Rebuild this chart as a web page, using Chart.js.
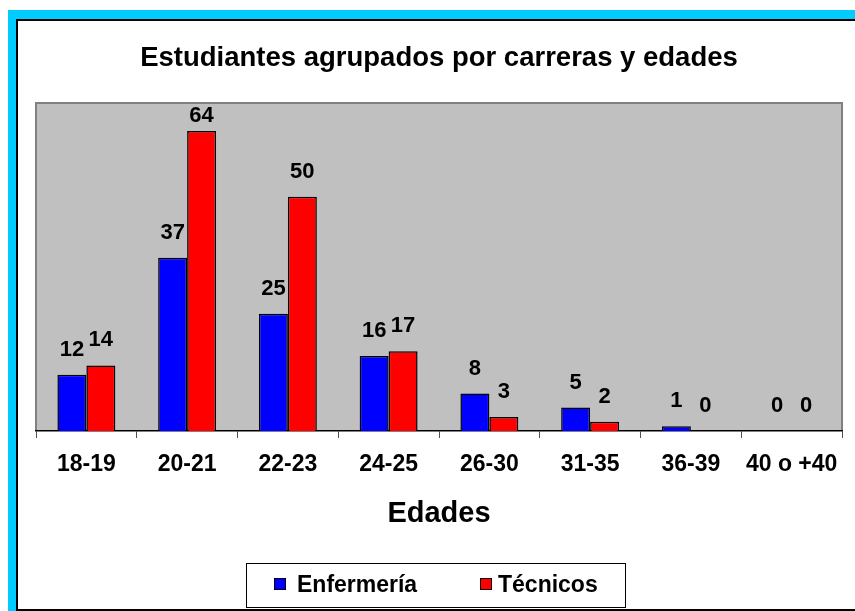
<!DOCTYPE html>
<html>
<head>
<meta charset="utf-8">
<script src="https://cdn.jsdelivr.net/npm/chart.js@4/dist/chart.umd.min.js"></script>
<style>
html,body{margin:0;padding:0;background:#fff;width:855px;height:611px;overflow:hidden;}
#cyan{position:absolute;left:8px;top:10px;width:847px;height:601px;background:#00CCFF;}
#frame{position:absolute;left:16px;top:19px;width:839px;height:592px;background:#fff;border-left:2px solid #000;border-top:2px solid #000;border-bottom:2px solid #000;box-sizing:border-box;}
#wrap{position:absolute;left:18px;top:21px;width:837px;height:588px;}
canvas{display:block;}
</style>
</head>
<body>
<div id="cyan"></div>
<div id="frame"></div>
<div id="wrap"><canvas id="c" width="837" height="588"></canvas></div>
<script>
// ---- data ----
const categories = ['18-19', '20-21', '22-23', '24-25', '26-30', '31-35', '36-39', '40 o +40'];
const enfermeria = [12, 37, 25, 16, 8, 5, 1, 0];
const tecnicos = [14, 64, 50, 17, 3, 2, 0, 0];
const seriesNames = ['Enfermería', 'Técnicos'];
const chartTitle = 'Estudiantes agrupados por carreras y edades';
const axisTitle = 'Edades';
const yMin = 0;
const yMax = 70;

// ---- styles ----
const FONT = "'Liberation Sans', Arial, Helvetica, sans-serif";
const COLORS = ['#0000FF', '#FF0000'];
const PLOT_BG = '#C0C0C0';
const PLOT_BORDER = '#808080';

const plotBackground = {
  id: 'plotBackground',
  beforeDraw(chart) {
    const {ctx, chartArea: a} = chart;
    ctx.save();
    ctx.fillStyle = PLOT_BG;
    ctx.fillRect(a.left, a.top, a.right - a.left, a.bottom - a.top);
    ctx.strokeStyle = PLOT_BORDER;
    ctx.lineWidth = 2;
    ctx.beginPath();
    ctx.moveTo(a.left, a.bottom);
    ctx.lineTo(a.left, a.top);
    ctx.lineTo(a.right, a.top);
    ctx.lineTo(a.right, a.bottom);
    ctx.stroke();
    ctx.restore();
  }
};

const valueLabels = {
  id: 'valueLabels',
  afterDatasetsDraw(chart) {
    const {ctx, chartArea: a} = chart;
    ctx.save();
    ctx.font = 'bold 22px ' + FONT;
    ctx.fillStyle = '#000';
    ctx.textAlign = 'center';
    ctx.textBaseline = 'middle';
    chart.data.datasets.forEach((ds, di) => {
      const meta = chart.getDatasetMeta(di);
      meta.data.forEach((bar, i) => {
        let y = bar.y - 25;
        if (y < a.top + 12.5) y = a.top + 12.5;
        ctx.fillText(String(ds.data[i]), bar.x, y);
      });
    });
    ctx.restore();
  }
};

const boxLegend = {
  id: 'boxLegend',
  afterDraw(chart) {
    const {ctx} = chart;
    ctx.save();
    ctx.strokeStyle = '#000';
    ctx.lineWidth = 1;
    ctx.strokeRect(228.5, 542.5, 379, 44);
    const items = [
      {sq: 256.5, tx: 279},
      {sq: 462.5, tx: 480}
    ];
    ctx.font = 'bold 23px ' + FONT;
    ctx.textBaseline = 'middle';
    ctx.textAlign = 'left';
    chart.data.datasets.forEach((ds, i) => {
      const it = items[i];
      ctx.fillStyle = ds.backgroundColor;
      ctx.fillRect(it.sq, 557.5, 11, 11);
      ctx.strokeStyle = '#000';
      ctx.strokeRect(it.sq, 557.5, 11, 11);
      ctx.fillStyle = '#000';
      ctx.fillText(ds.label, it.tx, 564.5);
    });
    ctx.restore();
  }
};

const zeroless = c => (c.raw === 0 ? 0 : 1.5);

new Chart(document.getElementById('c'), {
  type: 'bar',
  data: {
    labels: categories,
    datasets: [
      {label: seriesNames[0], data: enfermeria, backgroundColor: COLORS[0], borderColor: '#000', borderWidth: zeroless, categoryPercentage: 0.575, barPercentage: 1},
      {label: seriesNames[1], data: tecnicos, backgroundColor: COLORS[1], borderColor: '#000', borderWidth: zeroless, categoryPercentage: 0.575, barPercentage: 1}
    ]
  },
  options: {
    responsive: false,
    animation: false,
    layout: {padding: {left: 18, right: 13, top: 0, bottom: 0}},
    plugins: {
      legend: {display: false},
      tooltip: {enabled: false},
      title: {
        display: true,
        text: chartTitle,
        color: '#000',
        font: {family: FONT, size: 27.5, weight: 'bold'},
        padding: {top: 20.5, bottom: 28.5}
      }
    },
    scales: {
      x: {
        grid: {display: true, drawOnChartArea: false, drawTicks: true, tickLength: 7, color: '#505050', offset: true},
        border: {display: true, color: '#000', width: 1.5},
        ticks: {color: '#000', font: {family: FONT, size: 23, weight: 'bold'}, padding: 13, maxRotation: 0, autoSkip: false},
        title: {display: true, text: axisTitle, color: '#000', font: {family: FONT, size: 29, weight: 'bold'}, padding: {top: 0, bottom: 78}},
        afterFit: s => { s.height = 178; }
      },
      y: {display: false, min: yMin, max: yMax}
    }
  },
  plugins: [plotBackground, valueLabels, boxLegend]
});
</script>
</body>
</html>
